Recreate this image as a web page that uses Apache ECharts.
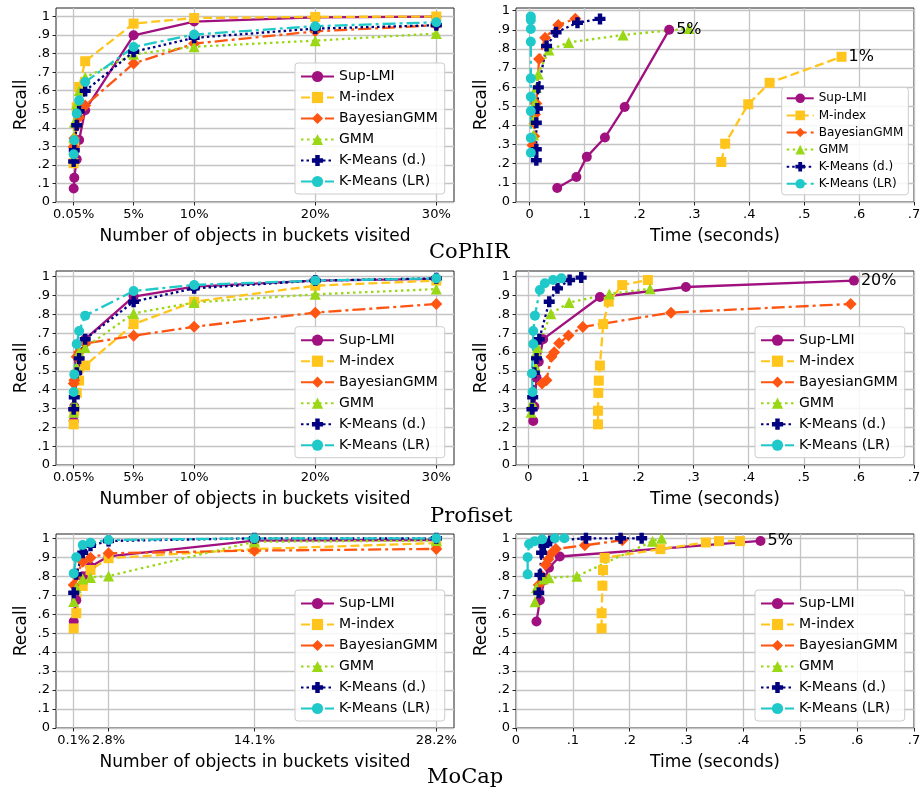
<!DOCTYPE html>
<html>
<head>
<meta charset="utf-8">
<script src="https://cdn.jsdelivr.net/npm/echarts@6/dist/echarts.min.js"></script>
<style>
  html, body { margin: 0; padding: 0; background: #fff; }
  #chart { width: 922px; height: 796px; }
</style>
</head>
<body>
<div id="chart"></div>
<script>
const methods = ['Sup-LMI', 'M-index', 'BayesianGMM', 'GMM', 'K-Means (d.)', 'K-Means (LR)'];

// tick labels
const recallTicks = [0, 0.1, 0.2, 0.3, 0.4, 0.5, 0.6, 0.7, 0.8, 0.9, 1];
const timeTicks = [0, 0.1, 0.2, 0.3, 0.4, 0.5, 0.6, 0.7];
const pctTicks = [0.05, 5, 10, 20, 30];
const mocapPctTicks = [0.1, 2.8, 14.1, 28.2];

// ---- CoPhIR ----
const cophirPct = [0.05, 0.1, 0.3, 0.5, 1, 5, 10, 20, 30];
const cophirPctRecall = [
  [0.073, 0.131, 0.23, 0.334, 0.495, 0.899, 0.973, 0.995, 0.999],
  [0.209, 0.305, 0.511, 0.62, 0.759, 0.962, 0.992, 0.998, 1.0],
  [0.297, 0.344, 0.41, 0.457, 0.52, 0.747, 0.854, 0.92, 0.953],
  [0.35, 0.43, 0.53, 0.60, 0.672, 0.797, 0.837, 0.87, 0.908],
  [0.218, 0.279, 0.414, 0.489, 0.599, 0.81, 0.885, 0.935, 0.953],
  [0.257, 0.333, 0.477, 0.548, 0.647, 0.836, 0.903, 0.948, 0.969]
];
const cophirTime = [
  [0.050, 0.085, 0.104, 0.137, 0.173, 0.254],
  [0.349, 0.356, 0.398, 0.437, 0.568],
  [0.005, 0.008, 0.009, 0.0096, 0.012, 0.017, 0.028, 0.052, 0.083],
  [0.007, 0.008, 0.010, 0.012, 0.0157, 0.035, 0.071, 0.170, 0.29],
  [0.012, 0.012, 0.012, 0.0139, 0.0157, 0.0307, 0.048, 0.087, 0.128],
  [0.002, 0.002, 0.002, 0.002, 0.002, 0.002, 0.002, 0.002, 0.002]
];
const cophirTimeRecall = [
  [0.073, 0.131, 0.236, 0.337, 0.497, 0.900],
  [0.209, 0.305, 0.511, 0.623, 0.759],
  [0.297, 0.344, 0.41, 0.457, 0.515, 0.747, 0.859, 0.925, 0.958],
  [0.35, 0.43, 0.52, 0.60, 0.669, 0.794, 0.834, 0.873, 0.907],
  [0.218, 0.276, 0.414, 0.489, 0.599, 0.815, 0.887, 0.937, 0.957],
  [0.257, 0.335, 0.475, 0.55, 0.646, 0.838, 0.904, 0.951, 0.969]
];
const cophirTimeNotes = ['5%', '1%', null, null, null, null];

// ---- Profiset ----
const profisetPct = [0.05, 0.1, 0.3, 0.5, 1, 5, 10, 20, 30];
const profisetPctRecall = [
  [0.234, 0.31, 0.465, 0.548, 0.668, 0.894, 0.947, 0.979, 0.988],
  [0.216, 0.288, 0.383, 0.448, 0.528, 0.748, 0.867, 0.952, 0.979],
  [0.433, 0.45, 0.575, 0.598, 0.645, 0.686, 0.734, 0.809, 0.855],
  [0.28, 0.33, 0.52, 0.60, 0.624, 0.805, 0.863, 0.906, 0.934],
  [0.296, 0.36, 0.49, 0.566, 0.668, 0.867, 0.938, 0.979, 0.991],
  [0.388, 0.481, 0.642, 0.711, 0.793, 0.924, 0.956, 0.979, 0.991]
];
const profisetTime = [
  [0.009, 0.011, 0.015, 0.019, 0.027, 0.130, 0.286, 0.591],
  [0.1265, 0.1265, 0.127, 0.128, 0.13, 0.136, 0.146, 0.1705, 0.217],
  [0.025, 0.033, 0.042, 0.047, 0.056, 0.073, 0.099, 0.259, 0.585],
  [0.005, 0.007, 0.0135, 0.015, 0.017, 0.041, 0.074, 0.147, 0.221],
  [0.0066, 0.008, 0.011, 0.015, 0.020, 0.038, 0.053, 0.075, 0.096],
  [0.0078, 0.0066, 0.009, 0.009, 0.012, 0.021, 0.030, 0.045, 0.060]
];
const profisetTimeRecall = [
  [0.234, 0.31, 0.465, 0.548, 0.668, 0.892, 0.945, 0.979],
  [0.216, 0.288, 0.383, 0.448, 0.528, 0.748, 0.867, 0.955, 0.982],
  [0.433, 0.45, 0.575, 0.598, 0.646, 0.688, 0.733, 0.809, 0.855],
  [0.28, 0.33, 0.52, 0.60, 0.625, 0.803, 0.863, 0.908, 0.936],
  [0.296, 0.36, 0.49, 0.566, 0.668, 0.867, 0.938, 0.982, 0.995],
  [0.388, 0.486, 0.642, 0.711, 0.793, 0.929, 0.965, 0.982, 0.991]
];
const profisetTimeNotes = ['20%', null, null, null, null, null];

// ---- MoCap ----
const mocapPct = [0.1, 0.3, 0.8, 1.4, 2.8, 14.1, 28.2];
const mocapPctRecall = [
  [0.561, 0.673, 0.80, 0.85, 0.905, 0.988, 0.991],
  [0.525, 0.605, 0.749, 0.833, 0.895, 0.943, 0.975],
  [0.754, 0.80, 0.877, 0.898, 0.921, 0.935, 0.944],
  [0.667, 0.74, 0.785, 0.794, 0.801, 0.982, 0.988],
  [0.713, 0.81, 0.924, 0.961, 0.986, 1.0, 1.0],
  [0.815, 0.90, 0.965, 0.977, 0.991, 1.0, 1.0]
];
const mocapTime = [
  [0.036, 0.042, 0.050, 0.058, 0.077, 0.43],
  [0.1506, 0.1506, 0.152, 0.153, 0.156, 0.254, 0.334, 0.357, 0.394],
  [0.040, 0.046, 0.052, 0.057, 0.062, 0.070, 0.121, 0.187],
  [0.0334, 0.036, 0.048, 0.058, 0.107, 0.24, 0.256],
  [0.040, 0.042, 0.045, 0.049, 0.06, 0.123, 0.184, 0.221],
  [0.0205, 0.0205, 0.023, 0.033, 0.046, 0.0685, 0.085]
];
const mocapTimeRecall = [
  [0.561, 0.673, 0.78, 0.845, 0.904, 0.986],
  [0.525, 0.605, 0.75, 0.833, 0.897, 0.943, 0.978, 0.985, 0.985],
  [0.754, 0.80, 0.86, 0.89, 0.92, 0.944, 0.963, 0.99],
  [0.666, 0.74, 0.785, 0.792, 0.80, 0.985, 1.0],
  [0.713, 0.807, 0.924, 0.961, 0.986, 1.0, 1.0, 1.0],
  [0.81, 0.90, 0.97, 0.985, 0.995, 1.0, 1.0]
];
const mocapTimeNotes = ['5%', null, null, null, null, null];

const colors = ['#a0107f', '#ffc51c', '#ff5512', '#9ad816', '#000080', '#1fc9c9'];
const plusPath = 'path://M3,0H7V3H10V7H7V10H3V7H0V3H3Z';
const symbols = ['circle', 'rect', 'diamond', 'triangle', plusPath, 'circle'];
const symbolSizes = [10, 10, 12, 11, 11, 10];
const dashes = ['solid', [9, 4], [13, 4, 3, 4], [2.5, 3.5], [2.5, 3], [13, 4, 3, 4]];

const FONT = 'DejaVu Sans';

const chart = echarts.init(document.getElementById('chart'), null, { renderer: 'canvas' });

const rowTop = [8, 271, 534];
const panels = [
  { left: 56, top: rowTop[0], xMin: -1.41, xMax: 31.46, xTicks: pctTicks, pct: true, yMax: 1.046,
    xs: methods.map(() => cophirPct), ys: cophirPctRecall, notes: null, legend: [295, 63, 14] },
  { left: 516, top: rowTop[0], xMin: -0.025, xMax: 0.7, xTicks: timeTicks, pct: false, yMax: 1.014,
    xs: cophirTime, ys: cophirTimeRecall, notes: cophirTimeNotes, legend: [781.7, 87.3, 12] },
  { left: 56, top: rowTop[1], xMin: -1.41, xMax: 31.46, xTicks: pctTicks, pct: true, yMax: 1.03,
    xs: methods.map(() => profisetPct), ys: profisetPctRecall, notes: null, legend: [295, 326.7, 14] },
  { left: 516, top: rowTop[1], xMin: -0.0223, xMax: 0.7, xTicks: timeTicks, pct: false, yMax: 1.03,
    xs: profisetTime, ys: profisetTimeRecall, notes: profisetTimeNotes, legend: [755, 326.7, 14] },
  { left: 56, top: rowTop[2], xMin: -1.272, xMax: 29.571, xTicks: mocapPctTicks, pct: true, yMax: 1.0227,
    xs: methods.map(() => mocapPct), ys: mocapPctRecall, notes: null, legend: [295, 590, 14] },
  { left: 516, top: rowTop[2], xMin: 0, xMax: 0.7, xTicks: timeTicks, pct: false, yMax: 1.0227,
    xs: mocapTime, ys: mocapTimeRecall, notes: mocapTimeNotes, legend: [755, 590, 14] }
];

const grid = [], xAxis = [], yAxis = [], series = [], legend = [];

panels.forEach((p, gi) => {
  grid.push({
    left: p.left, top: p.top, width: 398, height: 194,
    show: true, borderColor: '#222', borderWidth: 1, backgroundColor: 'transparent',
    containLabel: false, outerBoundsMode: 'none'
  });
  xAxis.push({
    type: 'value', gridIndex: gi, min: p.xMin, max: p.xMax,
    name: p.pct ? 'Number of objects in buckets visited' : 'Time (seconds)',
    nameLocation: 'middle', nameGap: 26,
    nameTextStyle: { fontFamily: FONT, fontSize: 17, color: '#000' },
    axisLine: { show: false, onZero: false },
    axisTick: { show: true, length: 3.5, customValues: p.xTicks, lineStyle: { color: '#222', width: 1 } },
    axisLabel: {
      customValues: p.xTicks, fontFamily: FONT, fontSize: 13, color: '#000', margin: 6,
      formatter: v => p.pct ? v + '%' : (Math.abs(v) < 1e-9 ? '0' : '.' + Math.round(v * 10))
    },
    splitLine: { show: true, lineStyle: { color: '#c4c4c4', width: 1.3 } }
  });
  yAxis.push({
    type: 'value', gridIndex: gi, min: 0, max: p.yMax,
    name: 'Recall', nameLocation: 'middle', nameGap: 26, nameRotate: 90,
    nameTextStyle: { fontFamily: FONT, fontSize: 17, color: '#000' },
    axisLine: { show: false, onZero: false },
    axisTick: { show: true, length: 3.5, customValues: recallTicks, lineStyle: { color: '#222', width: 1 } },
    axisLabel: {
      customValues: recallTicks, fontFamily: FONT, fontSize: 13, color: '#000', margin: 6,
      formatter: v => v < 1e-9 ? '0' : (v > 0.999 ? '1' : '.' + Math.round(v * 10))
    },
    splitLine: { show: true, lineStyle: { color: '#c4c4c4', width: 1.3 } }
  });

  methods.forEach((name, m) => {
    const xs = p.xs[m], ys = p.ys[m];
    const data = xs.map((x, i) => [x, ys[i]]);
    if (p.notes && p.notes[m]) {
      const last = data.length - 1;
      data[last] = {
        value: data[last],
        label: { show: true, position: 'right', distance: 2, formatter: p.notes[m],
                 fontFamily: FONT, fontSize: 16, color: '#000' }
      };
    }
    series.push({
      type: 'line', name: name, xAxisIndex: gi, yAxisIndex: gi,
      data: data,
      symbol: symbols[m], symbolSize: symbolSizes[m], showSymbol: true, showAllSymbol: true,
      lineStyle: { color: colors[m], width: 2.3, type: dashes[m], cap: 'butt' },
      itemStyle: { color: colors[m], borderWidth: 0 },
      emphasis: { disabled: true },
      animation: false
    });
  });

  const [lx, ly, fs] = p.legend;
  const small = fs < 14;
  legend.push({
    orient: 'vertical', left: lx, top: ly,
    data: methods,
    itemWidth: small ? 27 : 33, itemHeight: fs, itemGap: small ? 5.1 : 7,
    padding: small ? [5, 5, 5, 4] : [6.5, 7, 5.5, 5],
    backgroundColor: 'rgba(255,255,255,0.85)', borderColor: '#cccccc', borderWidth: 1, borderRadius: 3,
    textStyle: { fontFamily: FONT, fontSize: fs, color: '#000' },
    selectedMode: false
  });
});

const titleFont = 'DejaVu Serif';
const graphic = [
  { type: 'text', left: 469 - 40, top: 242, style: { text: 'CoPhIR', font: '21px "' + titleFont + '"', fill: '#000' } },
  { type: 'text', left: 470 - 40, top: 506, style: { text: 'Profiset', font: '21px "' + titleFont + '"', fill: '#000' } },
  { type: 'text', left: 467 - 40, top: 767, style: { text: 'MoCap', font: '21px "' + titleFont + '"', fill: '#000' } }
];

chart.setOption({
  animation: false,
  textStyle: { fontFamily: FONT },
  grid: grid,
  xAxis: xAxis,
  yAxis: yAxis,
  legend: legend,
  graphic: graphic,
  series: series
});
</script>
</body>
</html>
